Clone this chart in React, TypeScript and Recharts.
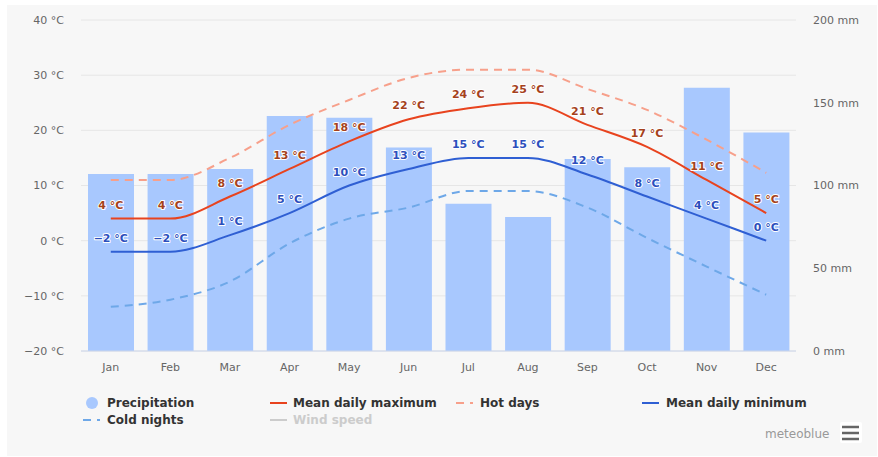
import React from 'react';
import { ComposedChart, Bar, Line, XAxis, YAxis, CartesianGrid, LabelList } from 'recharts';

const months = ['Jan', 'Feb', 'Mar', 'Apr', 'May', 'Jun', 'Jul', 'Aug', 'Sep', 'Oct', 'Nov', 'Dec'];
const precipitation = [107, 107, 110, 142, 141, 123, 89, 81, 116, 111, 159, 132];
const meanMax = [4, 4, 8, 13, 18, 22, 24, 25, 21, 17, 11, 5];
const meanMin = [-2, -2, 1, 5, 10, 13, 15, 15, 12, 8, 4, 0];
const hotDays = [11, 11, 15, 21, 25.5, 29.5, 31, 31, 27.5, 23.7, 18.3, 12.3];
const coldNights = [-12, -10.7, -7.4, -0.5, 4, 6, 9, 9, 6, 0.5, -4.7, -9.8];
const tempTicks = [-20, -10, 0, 10, 20, 30, 40];
const precipTicks = [0, 50, 100, 150, 200];

const data = months.map((m, i) => ({
  month: m,
  precip: precipitation[i],
  max: meanMax[i],
  min: meanMin[i],
  hot: hotDays[i],
  cold: coldNights[i],
}));

const FONT = '"DejaVu Sans", sans-serif';
const fmtT = (v: number) => `${v < 0 ? '\u2212' + Math.abs(v) : v} \u00b0C`;

const makeLabel = (color: string) => (props: any) => {
  const { x, y, value } = props;
  if (x == null || y == null) return null;
  return (
    <text
      x={x}
      y={y - 10}
      textAnchor="middle"
      fontFamily={FONT}
      fontSize={11}
      fontWeight="bold"
      fill={color}
      stroke="#ffffff"
      strokeWidth={2}
      strokeLinejoin="round"
      style={{ paintOrder: 'stroke' }}
    >
      {fmtT(value)}
    </text>
  );
};

const legendItems = [
  { label: 'Precipitation', x: 107, y: 403, type: 'circle', color: '#a8c8fe', sx: 92 },
  { label: 'Mean daily maximum', x: 293, y: 403, type: 'line', color: '#e8431e', sx: 270 },
  { label: 'Hot days', x: 480, y: 403, type: 'dash', color: '#f7a08b', sx: 456 },
  { label: 'Mean daily minimum', x: 666, y: 403, type: 'line', color: '#2f5fd3', sx: 642 },
  { label: 'Cold nights', x: 107, y: 420, type: 'dash', color: '#6ea8e8', sx: 83 },
  { label: 'Wind speed', x: 293, y: 420, type: 'line', color: '#cccccc', sx: 270, hidden: true },
];

export default function App() {
  return (
    <div style={{ position: 'absolute', left: 0, top: 0, width: 878, height: 457, background: '#ffffff' }}>
      <div style={{ position: 'absolute', left: 7, top: 5, width: 870, height: 451, background: '#f7f7f7' }} />
      <div style={{ position: 'absolute', left: 0, top: 0 }}>
        <ComposedChart width={878} height={457} data={data} margin={{ top: 20, right: 0, bottom: 76, left: 0 }}>
          <CartesianGrid yAxisId="t" vertical={false} stroke="#e6e6e6" />
          <XAxis
            dataKey="month"
            height={30}
            tickSize={0}
            tickMargin={12}
            axisLine={{ stroke: '#ccd6eb' }}
            tick={{ fill: '#666666', fontSize: 11, fontFamily: FONT }}
          />
          <YAxis
            yAxisId="t"
            orientation="left"
            width={81}
            domain={[-20, 40]}
            ticks={tempTicks}
            tickFormatter={fmtT}
            tickSize={0}
            tickMargin={17}
            axisLine={false}
            tick={{ fill: '#666666', fontSize: 11, fontFamily: FONT }}
          />
          <YAxis
            yAxisId="p"
            orientation="right"
            width={82}
            domain={[0, 200]}
            ticks={precipTicks}
            tickFormatter={(v: number) => `${v} mm`}
            tickSize={0}
            tickMargin={17}
            axisLine={false}
            tick={{ fill: '#666666', fontSize: 11, fontFamily: FONT, textAnchor: 'start' }}
          />
          <Bar yAxisId="p" dataKey="precip" fill="#a8c8fe" barSize={46} isAnimationActive={false} />
          <Line yAxisId="t" type="monotone" dataKey="hot" stroke="#f7a08b" strokeWidth={2} strokeDasharray="8 6" dot={false} isAnimationActive={false} />
          <Line yAxisId="t" type="monotone" dataKey="cold" stroke="#6ea8e8" strokeWidth={2} strokeDasharray="8 6" dot={false} isAnimationActive={false} />
          <Line yAxisId="t" type="monotone" dataKey="max" stroke="#e8431e" strokeWidth={2} dot={false} isAnimationActive={false}>
            <LabelList dataKey="max" content={makeLabel('#a5421c')} />
          </Line>
          <Line yAxisId="t" type="monotone" dataKey="min" stroke="#2f5fd3" strokeWidth={2} dot={false} isAnimationActive={false}>
            <LabelList dataKey="min" content={makeLabel('#2c4fbd')} />
          </Line>
        </ComposedChart>
      </div>
      <svg width={878} height={457} style={{ position: 'absolute', left: 0, top: 0, pointerEvents: 'none' }}>
        {legendItems.map((it) => (
          <g key={it.label}>
            {it.type === 'circle' && <circle cx={it.sx} cy={it.y} r={6} fill={it.color} />}
            {it.type === 'line' && <line x1={it.sx} x2={it.sx + 17} y1={it.y} y2={it.y} stroke={it.color} strokeWidth={2} />}
            {it.type === 'dash' && (
              <line x1={it.sx} x2={it.sx + 17} y1={it.y} y2={it.y} stroke={it.color} strokeWidth={2} strokeDasharray="8 6" />
            )}
            <text
              x={it.x}
              y={it.y + 4}
              fontFamily={FONT}
              fontSize={12}
              fontWeight="bold"
              fill={it.hidden ? '#cccccc' : '#333333'}
            >
              {it.label}
            </text>
          </g>
        ))}
        <text x={765} y={438} fontFamily={FONT} fontSize={12} fill="#999999">meteoblue</text>
        <rect x={840} y={422} width={22} height={21} fill="#ffffff" rx={2} />
        <line x1={842} x2={859} y1={427} y2={427} stroke="#666666" strokeWidth={2.5} />
        <line x1={842} x2={859} y1={433} y2={433} stroke="#666666" strokeWidth={2.5} />
        <line x1={842} x2={859} y1={439} y2={439} stroke="#666666" strokeWidth={2.5} />
      </svg>
    </div>
  );
}
